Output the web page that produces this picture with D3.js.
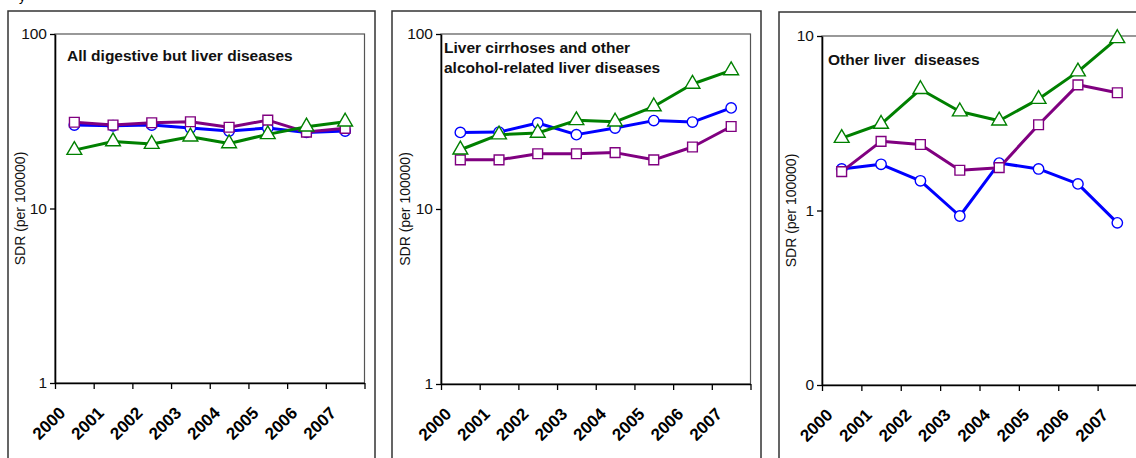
<!DOCTYPE html>
<html>
<head>
<meta charset="utf-8">
<script src="https://cdn.jsdelivr.net/npm/d3@7"></script>
<style>
  body { margin: 0; background: #fff; }
  svg { display: block; font-family: "Liberation Sans", Arial, sans-serif; }
</style>
</head>
<body>
<svg width="1136" height="458"></svg>
<script>
// years on the x axis
var years = ['2000', '2001', '2002', '2003', '2004', '2005', '2006', '2007'];

// All digestive but liver diseases
var digestiveCircle   = [30.1, 29.8, 30.1, 28.9, 27.8, 28.9, 27.3, 27.8];
var digestiveSquare   = [31.2, 30.1, 31.0, 31.4, 29.2, 32.1, 27.4, 28.8];
var digestiveTriangle = [21.6, 24.2, 23.4, 25.8, 23.6, 26.6, 29.4, 31.4];

// Liver cirrhoses and other alcohol-related liver diseases
var cirrhosisCircle   = [27.4, 27.5, 31.0, 26.6, 29.0, 32.0, 31.4, 37.8];
var cirrhosisSquare   = [19.1, 19.1, 20.7, 20.7, 21.0, 19.1, 22.6, 29.6];
var cirrhosisTriangle = [21.8, 26.6, 27.2, 32.1, 31.5, 38.5, 51.8, 61.9];

// Other liver diseases
var otherCircle   = [1.73, 1.84, 1.48, 0.93, 1.87, 1.73, 1.42, 0.85];
var otherSquare   = [1.67, 2.49, 2.39, 1.70, 1.76, 3.10, 5.25, 4.73];
var otherTriangle = [2.60, 3.13, 4.95, 3.69, 3.27, 4.35, 6.25, 9.70];

// y ticks
var yTicksA = [1, 10, 100];
var yTickLabelsA = ['1', '10', '100'];
var yTicksB = [0.1, 1, 10];
var yTickLabelsB = ['0', '1', '10'];

var yLabel = 'SDR (per 100000)';

var panels = [
  { box: 8, boxTop: 11, boxRight: 375, left: 55, right: 364.5, top: 34, bottom: 383,
    ticks: yTicksA, tickLabels: yTickLabelsA, labelX: 20,
    title: ['All digestive but liver diseases'], titleX: 67, titleY: 61,
    series: [digestiveCircle, digestiveSquare, digestiveTriangle] },
  { box: 392, boxTop: 11, boxRight: 761, left: 441, right: 750.5, top: 34, bottom: 384,
    ticks: yTicksA, tickLabels: yTickLabelsA, labelX: 405,
    title: ['Liver cirrhoses and other', 'alcohol-related liver diseases'], titleX: 444, titleY: 53,
    series: [cirrhosisCircle, cirrhosisSquare, cirrhosisTriangle] },
  { box: 779, boxTop: 12, boxRight: 1150, left: 822, right: 1137, top: 36, bottom: 385,
    ticks: yTicksB, tickLabels: yTickLabelsB, labelX: 791,
    title: ['Other liver  diseases'], titleX: 828, titleY: 65,
    series: [otherCircle, otherSquare, otherTriangle] }
];

var colors = ['#0000ff', '#800080', '#008000'];
var shapes = [d3.symbolCircle, d3.symbolSquare, d3.symbolTriangle];
var sizes = [85, 95, 95];

var svg = d3.select('svg');

// stray text fragment cut at the top of the picture
svg.append('text')
  .attr('x', 19).attr('y', 1)
  .style('font-size', '13px')
  .text('y');

panels.forEach(function(p) {
  var g = svg.append('g');

  g.append('rect')
    .attr('x', p.box).attr('y', p.boxTop)
    .attr('width', p.boxRight - p.box).attr('height', 470)
    .attr('fill', 'none')
    .attr('stroke', '#333')
    .attr('stroke-width', 1.5);

  var x = d3.scaleBand()
    .domain(years)
    .range([p.left, p.right]);

  var xIdx = d3.scaleLinear()
    .domain([0, years.length])
    .range([p.left, p.right]);

  var y = d3.scaleLog()
    .domain([p.ticks[0], p.ticks[p.ticks.length - 1]])
    .range([p.bottom, p.top]);

  // plot frame
  g.append('rect')
    .attr('x', p.left).attr('y', p.top)
    .attr('width', p.right - p.left).attr('height', p.bottom - p.top)
    .attr('fill', 'none')
    .attr('stroke', '#555')
    .attr('stroke-width', 1.2);

  var yAxis = g.append('g')
    .attr('transform', 'translate(' + p.left + ',0)')
    .call(d3.axisLeft(y)
      .tickValues(p.ticks)
      .tickSize(5)
      .tickSizeOuter(0)
      .tickPadding(3)
      .tickFormat(function(d, i) { return p.tickLabels[i]; }));
  yAxis.attr('font-family', null);
  yAxis.select('.domain').attr('stroke', '#000').attr('stroke-width', 1.6);
  yAxis.selectAll('.tick line').attr('stroke', '#000').attr('stroke-width', 1.3);
  yAxis.selectAll('.tick text')
    .style('font-size', '15.5px')
    .attr('fill', '#111');

  var xAxis = g.append('g')
    .attr('transform', 'translate(0,' + p.bottom + ')')
    .call(d3.axisBottom(xIdx)
      .tickValues(d3.range(years.length + 1))
      .tickSize(6)
      .tickSizeOuter(0)
      .tickFormat(''));
  xAxis.select('.domain').attr('stroke', '#000').attr('stroke-width', 1.6);
  xAxis.selectAll('.tick line').attr('stroke', '#000').attr('stroke-width', 1.3);

  g.selectAll('.year')
    .data(years)
    .enter()
    .append('text')
    .attr('transform', function(d) {
      return 'translate(' + (x(d) + x.bandwidth() / 2 - 8) + ',' + (p.bottom + 31) + ') rotate(-45)';
    })
    .attr('text-anchor', 'end')
    .style('font-size', '17px')
    .style('font-weight', 'bold')
    .text(function(d) { return d; });

  g.append('text')
    .attr('transform', 'translate(' + p.labelX + ',' + ((p.top + p.bottom) / 2) + ') rotate(-90)')
    .attr('text-anchor', 'middle')
    .attr('dy', '0.35em')
    .style('font-size', '14px')
    .attr('fill', '#111')
    .text(yLabel);

  g.selectAll('.title')
    .data(p.title)
    .enter()
    .append('text')
    .attr('x', p.titleX)
    .attr('y', function(d, i) { return p.titleY + i * 20; })
    .style('font-size', '15.5px')
    .style('font-weight', 'bold')
    .style('white-space', 'pre')
    .attr('fill', '#111')
    .text(function(d) { return d; });

  var line = d3.line()
    .x(function(d, i) { return x(years[i]) + x.bandwidth() / 2; })
    .y(function(d) { return y(d); });

  p.series.forEach(function(values, s) {
    g.append('path')
      .datum(values)
      .attr('d', line)
      .attr('fill', 'none')
      .attr('stroke', colors[s])
      .attr('stroke-width', 3)
      .attr('stroke-linejoin', 'round');

    g.selectAll('.marker' + s)
      .data(values)
      .enter()
      .append('path')
      .attr('transform', function(d, i) {
        return 'translate(' + (x(years[i]) + x.bandwidth() / 2) + ',' + y(d) + ')';
      })
      .attr('d', d3.symbol().type(shapes[s]).size(sizes[s]))
      .attr('fill', '#fff')
      .attr('stroke', colors[s])
      .attr('stroke-width', 1.4);
  });
});
</script>
</body>
</html>
